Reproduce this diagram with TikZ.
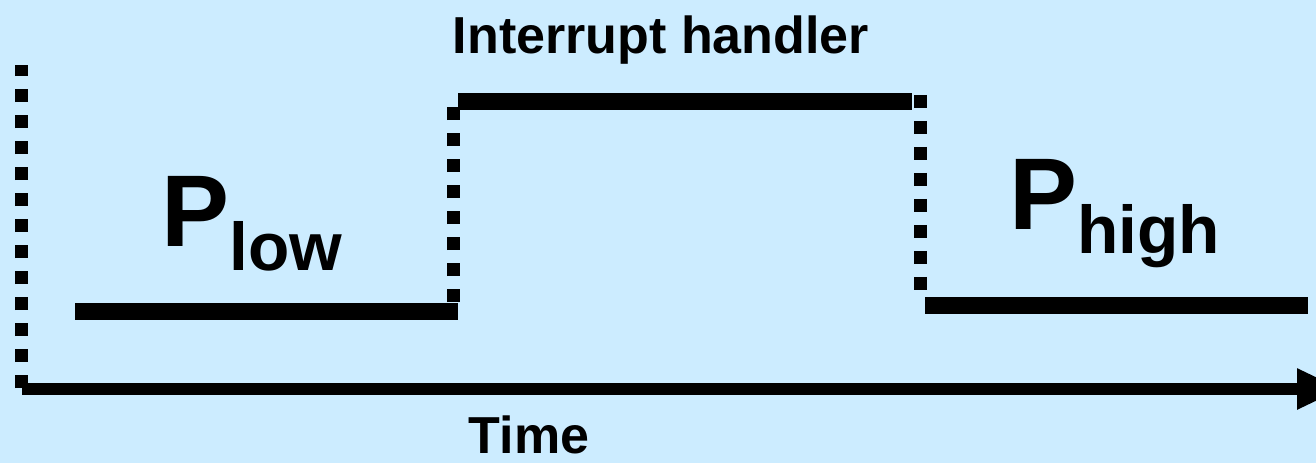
\documentclass[tikz,border=0pt]{standalone}
\usepackage{fontspec}
\setmainfont{Liberation Sans}
\usetikzlibrary{arrows.meta}
\usepackage{xcolor}
\definecolor{bgsky}{HTML}{CCECFF}
\definecolor{inkblack}{HTML}{000000}

\tikzset{
  runline/.style={draw=inkblack, line width=0.34cm},
  switchdots/.style={draw=inkblack, line width=0.26cm, dash pattern=on 0.26cm off 0.26cm},
  heading/.style={text=inkblack, inner sep=0pt, font=\bfseries\fontsize{29.6}{30}\selectfont},
  procfont/.style={text=inkblack, inner sep=0pt, font=\bfseries\fontsize{58}{58}\selectfont}
}
% process name with a lowered subscript
\newcommand{\procname}[1]{P\raisebox{-0.5cm}{\fontsize{38.5}{38.5}\selectfont #1}}

\begin{document}
\begin{tikzpicture}
    \fill[bgsky] (0,0) rectangle (26.32,9.26);
    \useasboundingbox (0,0) rectangle (26.32,9.26);

    % time axis
    \coordinate (origin) at (0.44,1.48);
    \coordinate (tend) at (26.84,1.48);
    \draw[draw=inkblack, line width=0.24cm,
          -{Triangle[length=0.9cm, width=0.76cm]}] (origin) -- (tend);
    \node[heading, anchor=base] (time) at (10.58,0.2) {Time};

    % low priority process
    \coordinate (ystart) at (0.43,1.50);
    \coordinate (ytop) at (0.43,7.96);
    \draw[switchdots] (ystart) -- (ytop);
    \coordinate (low1) at (1.50,3.03);
    \coordinate (low2) at (9.16,3.03);
    \draw[runline] (low1) -- (low2);
    \node[procfont, anchor=base west] (plow) at (3.22,4.34) {\procname{low}};

    % interrupt handler
    \coordinate (sw1a) at (9.07,3.22);
    \coordinate (sw1b) at (9.07,7.12);
    \draw[switchdots] (sw1a) -- (sw1b);
    \coordinate (irq1) at (9.16,7.23);
    \coordinate (irq2) at (18.24,7.23);
    \draw[runline] (irq1) -- (irq2);
    \node[heading, anchor=base] (handler) at (13.22,8.18) {Interrupt handler};

    % high priority process
    \coordinate (sw2a) at (18.40,7.36);
    \coordinate (sw2b) at (18.40,3.46);
    \draw[switchdots] (sw2a) -- (sw2b);
    \coordinate (high1) at (18.50,3.15);
    \coordinate (high2) at (26.16,3.15);
    \draw[runline] (high1) -- (high2);
    \node[procfont, anchor=base west] (phigh) at (20.18,4.68) {\procname{high}};
\end{tikzpicture}
\end{document}
